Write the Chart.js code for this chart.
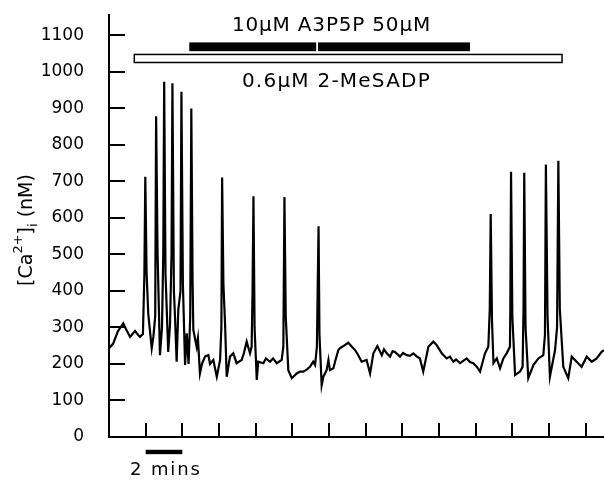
<!DOCTYPE html>
<html><head><meta charset="utf-8">
<script src="https://cdn.jsdelivr.net/npm/chart.js@4.4.1/dist/chart.umd.min.js"></script>
<style>html,body{margin:0;padding:0;background:#fff;}canvas{display:block;}</style>
</head><body>
<canvas id="c" width="604" height="480"></canvas>
<script>
// time in minutes
const timeMin = [
0.00,0.22,0.49,0.78,0.93,1.15,1.42,1.58,1.69,1.85,
1.93,1.98,2.05,2.14,2.33,2.42,2.52,2.57,2.65,2.78,
2.89,2.96,3.01,3.08,3.23,3.33,3.41,3.46,3.54,3.60,
3.69,3.78,3.90,3.95,4.03,4.15,4.24,4.34,4.43,4.49,
4.56,4.60,4.78,4.85,4.96,5.07,5.24,5.42,5.51,5.69,
5.88,6.06,6.13,6.17,6.24,6.33,6.42,6.60,6.78,6.96,
7.24,7.36,7.51,7.69,7.78,7.83,7.88,7.94,8.06,8.14,
8.42,8.56,8.78,8.95,9.15,9.42,9.51,9.57,9.64,9.78,
9.97,10.24,10.42,10.60,10.80,10.96,11.14,11.24,11.34,11.43,
11.48,11.60,11.69,11.87,11.97,12.05,12.24,12.33,12.51,12.60,
12.82,13.05,13.20,13.42,13.58,13.78,14.05,14.24,14.42,14.64,
14.88,15.00,15.15,15.33,15.47,15.60,15.87,16.04,16.24,16.42,
16.60,16.80,16.96,17.14,17.42,17.69,17.87,18.15,18.42,18.60,
18.78,18.93,19.15,19.51,19.69,19.87,20.07,20.24,20.51,20.69,
20.77,20.82,20.89,20.97,21.15,21.33,21.51,21.69,21.87,21.89,
21.93,22.00,22.15,22.42,22.56,22.61,22.65,22.72,22.87,23.15,
23.42,23.69,23.78,23.83,23.92,24.05,24.33,24.44,24.51,24.59,
24.78,25.05,25.24,25.51,25.78,26.06,26.33,26.60,26.87,27.00];
// [Ca2+]i in nM
const caNM = [
243,255,290,311,295,274,290,280,274,282,
445,712,450,338,243,274,330,878,500,224,
300,500,972,450,233,310,500,968,400,330,
206,348,400,945,420,197,284,200,330,899,
420,293,247,270,174,200,220,224,200,211,
165,211,300,710,420,311,165,220,229,202,
211,230,261,229,247,400,659,300,156,206,
202,215,206,215,202,211,247,657,330,183,
161,174,179,179,185,192,206,197,247,577,
280,142,165,183,211,183,188,206,238,243,
250,258,250,238,225,206,211,174,229,249,
224,240,229,220,235,233,220,230,224,222,
229,220,215,179,247,261,252,229,215,220,
206,212,202,215,205,202,192,179,229,247,
350,610,320,202,215,188,215,229,247,350,
726,330,170,179,192,350,723,300,161,197,
215,224,280,746,330,165,238,300,756,350,
192,161,220,206,192,220,206,215,233,238];

const yTicks = [0,100,200,300,400,500,600,700,800,900,1000,1100];
const xTicks = [2,4,6,8,10,12,14,16,18,20,22,24,26];
const blockerBars = [[4.38,11.30],[11.40,19.69]];   // A3P5P 10 µM then 50 µM (min)
const agonistBar = [1.38,24.71];                    // 2-MeSADP (min)
const scaleBarMin = [2,4];
const blockerLabel = '10μM A3P5P 50μM';
const agonistLabel = '0.6μM 2-MeSADP';
const scaleBarLabel = '2 mins';

const FONT = '"DejaVu Sans", sans-serif';

function fitText(ctx, text, x0, x1, y, font){
  ctx.font = font; ctx.textAlign = 'left'; ctx.textBaseline = 'alphabetic';
  const w = ctx.measureText(text).width;
  const n = [...text].length;
  if ('letterSpacing' in ctx) {
    ctx.letterSpacing = ((x1 - x0 - w) / n).toFixed(2) + 'px';
    ctx.fillText(text, x0, y);
    ctx.letterSpacing = '0px';
  } else ctx.fillText(text, x0, y);
}

const decor = {
  id: 'decor',
  afterDraw(chart){
    const ctx = chart.ctx, xa = chart.scales.x, ya = chart.scales.y;
    const X = v => xa.getPixelForValue(v), Y = v => ya.getPixelForValue(v);
    ctx.save();
    ctx.strokeStyle = '#000'; ctx.fillStyle = '#000'; ctx.lineWidth = 2;
    // inward ticks
    ctx.beginPath();
    yTicks.forEach(v => { if (v === 0) return; const p = Math.round(Y(v)); ctx.moveTo(xa.left, p); ctx.lineTo(xa.left + 16, p); });
    xTicks.forEach(t => { const p = Math.round(X(t)); ctx.moveTo(p, ya.bottom); ctx.lineTo(p, ya.bottom - 14); });
    ctx.stroke();
    // blocker bars (black)
    blockerBars.forEach(b => {
      ctx.fillRect(X(b[0]), Y(1080), X(b[1]) - X(b[0]), Y(1056) - Y(1080));
    });
    // agonist bar (open)
    ctx.lineWidth = 1.5;
    ctx.fillStyle = '#fff';
    ctx.fillRect(X(agonistBar[0]), Y(1047), X(agonistBar[1]) - X(agonistBar[0]), Y(1025) - Y(1047));
    ctx.strokeRect(X(agonistBar[0]), Y(1047), X(agonistBar[1]) - X(agonistBar[0]), Y(1025) - Y(1047));
    ctx.fillStyle = '#000';
    // labels
    fitText(ctx, blockerLabel, X(6.71), X(17.56), Y(1110), '20px ' + FONT);
    fitText(ctx, agonistLabel, X(7.25), X(17.56), Y(959), '20px ' + FONT);
    // scale bar
    ctx.fillRect(X(scaleBarMin[0]), Y(-35), X(scaleBarMin[1]) - X(scaleBarMin[0]), Y(-47) - Y(-35));
    fitText(ctx, scaleBarLabel, X(1.15), X(5.06), Y(-103), '18px ' + FONT);
    // y title
    ctx.translate(32, (ya.top + ya.bottom) / 2 + 4);
    ctx.rotate(-Math.PI / 2);
    const main = '19px ' + FONT, small = '13px ' + FONT;
    const parts = [['[Ca', main, 0], ['2+', small, -10], [']', main, 0], ['i', small, 5], [' (nM)', main, 0]];
    let total = 0;
    parts.forEach(p => { ctx.font = p[1]; total += ctx.measureText(p[0]).width; });
    let x = -total / 2;
    ctx.textAlign = 'left'; ctx.textBaseline = 'alphabetic';
    parts.forEach(p => { ctx.font = p[1]; ctx.fillText(p[0], x, p[2]); x += ctx.measureText(p[0]).width; });
    ctx.restore();
  }
};

new Chart(document.getElementById('c'), {
  type: 'line',
  data: { datasets: [{
    data: timeMin.map((t, i) => ({ x: t, y: caNM[i] })),
    borderColor: '#000', borderWidth: 2.2, pointRadius: 0, tension: 0, fill: false,
    borderJoinStyle: 'miter'
  }]},
  options: {
    responsive: false, animation: false, devicePixelRatio: 1,
    layout: { padding: { top: 15, right: 0, left: 0, bottom: 0 } },
    plugins: { legend: { display: false }, tooltip: { enabled: false } },
    scales: {
      x: {
        type: 'linear', min: 0, max: 27,
        grid: { display: false, drawTicks: false },
        border: { display: true, color: '#000', width: 2 },
        ticks: { display: false },
        afterFit(s){ s.height = 43; s.paddingLeft = 0; s.paddingRight = 0; }
      },
      y: {
        min: 0, max: 1155,
        grid: { display: false, drawTicks: false },
        border: { display: true, color: '#000', width: 2 },
        ticks: { color: '#000', font: { family: FONT, size: 17 }, padding: 25, callback: v => String(v) },
        afterBuildTicks(s){ s.ticks = yTicks.map(v => ({ value: v })); },
        afterFit(s){ s.width = 109; s.paddingTop = 0; s.paddingBottom = 0; }
      }
    }
  },
  plugins: [decor]
});
</script>
</body></html>
